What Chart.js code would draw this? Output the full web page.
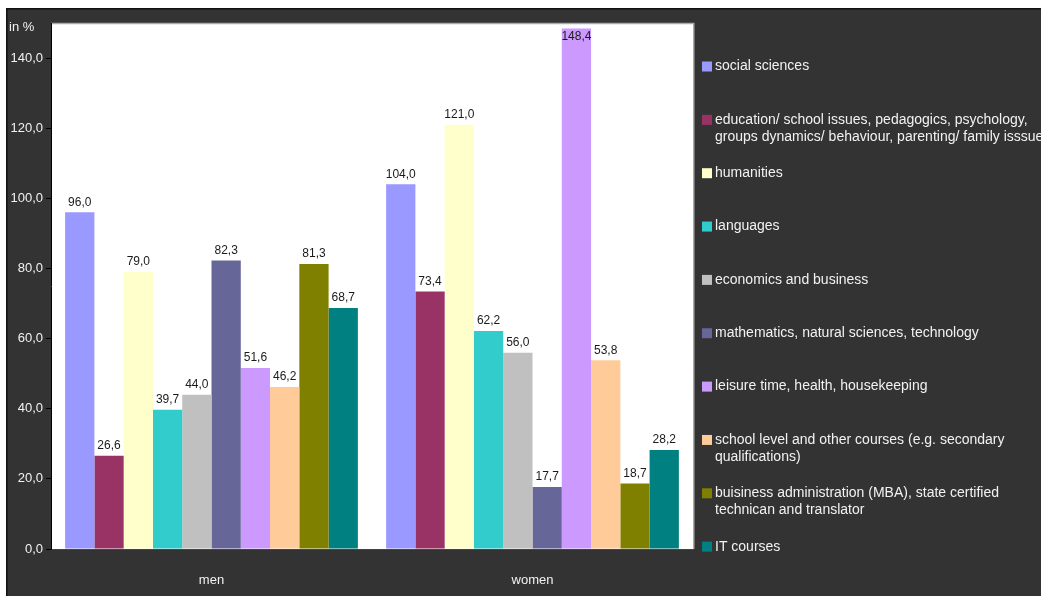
<!DOCTYPE html>
<html>
<head>
<meta charset="utf-8">
<script src="https://cdn.jsdelivr.net/npm/chart.js@4/dist/chart.umd.min.js"></script>
<style>
html,body{margin:0;padding:0;background:#fff;}
#wrap{width:1041px;height:596px;position:relative;}
</style>
</head>
<body>
<div id="wrap"><canvas id="c" width="1041" height="596"></canvas></div>
<script>
const categories = ["men", "women"];
const seriesNames = [
  ["social sciences"],
  ["education/ school issues, pedagogics, psychology,", "groups dynamics/ behaviour, parenting/ family isssues"],
  ["humanities"],
  ["languages"],
  ["economics and business"],
  ["mathematics, natural sciences, technology"],
  ["leisure time, health, housekeeping"],
  ["school level and other courses (e.g. secondary", "qualifications)"],
  ["buisiness administration (MBA), state certified", "technican and translator"],
  ["IT courses"]
];
const seriesColors = ["#9999FF", "#993366", "#FFFFCC", "#33CCCC", "#C0C0C0", "#666699", "#CC99FF", "#FFCC99", "#808000", "#008080"];
const menValues   = [96.0, 26.6, 79.0, 39.7, 44.0, 82.3, 51.6, 46.2, 81.3, 68.7];
const womenValues = [104.0, 73.4, 121.0, 62.2, 56.0, 17.7, 148.4, 53.8, 18.7, 28.2];
const yTicks = [0, 20, 40, 60, 80, 100, 120, 140];
const yAxisTitle = "in %";

const fmt = v => v.toFixed(1).replace('.', ',');
Chart.defaults.font.family = "'Liberation Sans', Arial, Helvetica, sans-serif";

const datasets = seriesNames.map((lines, i) => ({
  label: lines.join(' '),
  data: [menValues[i], womenValues[i]],
  backgroundColor: seriesColors[i],
  borderWidth: 0
}));

const bgPlugin = {
  id: 'bg',
  beforeDraw(chart) {
    const ctx = chart.ctx, a = chart.chartArea;
    ctx.save();
    ctx.fillStyle = '#ffffff';
    ctx.fillRect(0, 0, chart.width, chart.height);
    ctx.fillStyle = '#333333';
    ctx.fillRect(7, 8, chart.width - 7, chart.height - 8);
    ctx.strokeStyle = '#111111';
    ctx.lineWidth = 1.5;
    ctx.beginPath();
    ctx.moveTo(6.75, chart.height); ctx.lineTo(6.75, 8.75); ctx.lineTo(chart.width, 8.75);
    ctx.stroke();
    ctx.fillStyle = '#ffffff';
    ctx.fillRect(a.left, a.top, a.right - a.left, a.bottom - a.top);
    ctx.strokeStyle = '#aaaaaa';
    ctx.lineWidth = 1.5;
    ctx.beginPath();
    ctx.moveTo(a.left, a.top + 0.5); ctx.lineTo(a.right + 0.75, a.top + 0.5); ctx.lineTo(a.right + 0.75, a.bottom);
    ctx.stroke();
    ctx.fillStyle = '#f2f2f2';
    ctx.font = "13px 'Liberation Sans', Arial, sans-serif";
    ctx.textAlign = 'left';
    ctx.textBaseline = 'middle';
    ctx.fillText(yAxisTitle, 9, 27);
    ctx.restore();
  }
};

const labelPlugin = {
  id: 'vlabels',
  afterDatasetsDraw(chart) {
    const ctx = chart.ctx, a = chart.chartArea;
    ctx.save();
    ctx.font = "12px 'Liberation Sans', Arial, sans-serif";
    ctx.fillStyle = '#1a1a1a';
    ctx.textAlign = 'center';
    ctx.textBaseline = 'bottom';
    chart.data.datasets.forEach((ds, di) => {
      const meta = chart.getDatasetMeta(di);
      meta.data.forEach((el, i) => {
        const y = Math.max(el.y - 4, a.top + 20);
        ctx.fillText(fmt(ds.data[i]), el.x, y);
      });
    });
    ctx.restore();
  }
};

const legendPlugin = {
  id: 'customLegend',
  afterDraw(chart) {
    const ctx = chart.ctx;
    ctx.save();
    ctx.font = "14px 'Liberation Sans', Arial, sans-serif";
    ctx.textAlign = 'left';
    ctx.textBaseline = 'middle';
    seriesNames.forEach((lines, i) => {
      const y = 66.5 + i * 53.35;
      ctx.fillStyle = seriesColors[i];
      ctx.fillRect(702, y - 5, 10, 10);
      ctx.fillStyle = '#f2f2f2';
      lines.forEach((t, j) => ctx.fillText(t, 715, y + j * 17));
    });
    ctx.restore();
  }
};

new Chart(document.getElementById('c'), {
  type: 'bar',
  data: { labels: categories, datasets },
  plugins: [bgPlugin, labelPlugin, legendPlugin],
  options: {
    responsive: false,
    animation: false,
    devicePixelRatio: 1,
    layout: { padding: { top: 23, right: 348, left: 0, bottom: 0 } },
    datasets: { bar: { barPercentage: 1.0, categoryPercentage: 0.912 } },
    plugins: { legend: { display: false }, tooltip: { enabled: false } },
    scales: {
      x: {
        grid: { display: false },
        border: { display: true, color: '#444444', width: 1 },
        ticks: { color: '#f2f2f2', font: { size: 13 }, padding: 16 },
        afterFit(s) { s.height = 47; }
      },
      y: {
        min: 0, max: 150,
        afterBuildTicks(s) { s.ticks = yTicks.map(v => ({ value: v })); },
        grid: { display: true, drawOnChartArea: false, color: '#000000', tickLength: 5, tickWidth: 1 },
        border: { display: true, color: '#000000', width: 1 },
        ticks: { color: '#f2f2f2', font: { size: 13 }, padding: 3, callback: v => fmt(v) },
        afterFit(s) { s.width = 51; }
      }
    }
  }
});
</script>
</body>
</html>
